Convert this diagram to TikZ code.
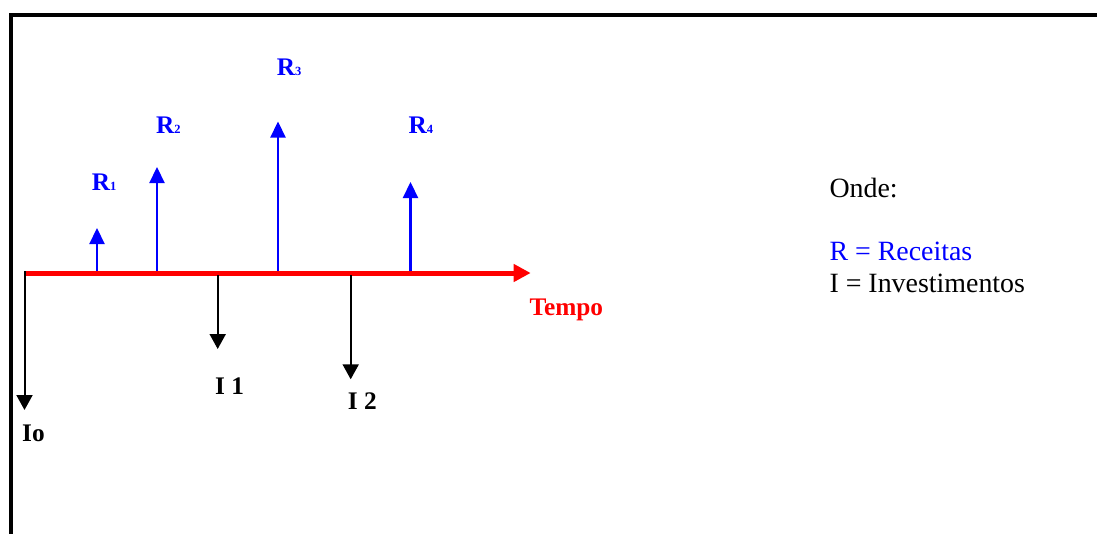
\documentclass[tikz,border=0pt]{standalone}
\usepackage{fontspec}
\setmainfont{Liberation Serif}
\usetikzlibrary{arrows.meta}
\definecolor{rblue}{RGB}{0,0,255}
\definecolor{rred}{RGB}{255,0,0}
\newcommand{\lblfont}{\fontsize{25.3}{30}\selectfont\bfseries}
\newcommand{\subfnt}[1]{{\fontsize{12.5}{13}\selectfont #1}}
\newcommand{\legfont}{\fontsize{27.9}{32}\selectfont}
\tikzset{
  frameline/.style={line width=4pt, black},
  axisarrow/.style={line width=5pt, rred, -{Triangle[length=17pt,width=17pt]}},
  recarrow/.style={line width=2.2pt, rblue, -{Triangle[length=16pt,width=15pt]}},
  invarrow/.style={line width=2pt, black, -{Triangle[length=15pt,width=16pt]}},
  lbl/.style={inner sep=0pt, anchor=base west, font=\lblfont},
  leg/.style={inner sep=0pt, anchor=base west, font=\legfont},
}
\begin{document}
\begin{tikzpicture}[x=1pt,y=-1pt]
\useasboundingbox (0,0) rectangle (1097,533);
\clip (0,0) rectangle (1097,533);
\fill[white] (0,0) rectangle (1097,533);
% frame
\coordinate (fb) at (10.7,545);
\coordinate (ftl) at (10.7,15.3);
\coordinate (fr) at (1110,15.3);
\draw[frameline] (fb) -- (ftl) -- (fr);
% axis
\coordinate (a0) at (24,273);
\coordinate (aend) at (530.7,273);
\draw[axisarrow] (a0) -- (aend);
% investment arrows
\coordinate (io0) at (24.5,271);
\coordinate (io1) at (24.5,410);
\coordinate (i10) at (217.7,275);
\coordinate (i11) at (217.7,349);
\coordinate (i20) at (350.7,275);
\coordinate (i21) at (350.7,379.3);
\draw[invarrow] (io0) -- (io1);
\draw[invarrow] (i10) -- (i11);
\draw[invarrow] (i20) -- (i21);
% receipt arrows
\coordinate (r10) at (97,271);
\coordinate (r11) at (97,228);
\coordinate (r20) at (157,271);
\coordinate (r21) at (157,167);
\coordinate (r30) at (278,271);
\coordinate (r31) at (278,121.5);
\coordinate (r40) at (410.5,271);
\coordinate (r41) at (410.5,182);
\draw[recarrow] (r10) -- (r11);
\draw[recarrow] (r20) -- (r21);
\draw[recarrow] (r30) -- (r31);
\draw[recarrow] (r40) -- (r41);
% labels
\node[lbl, text=rblue] (lr1) at (91.7,190.7) {R\subfnt{1}};
\node[lbl, text=rblue] (lr2) at (156,133.3) {R\subfnt{2}};
\node[lbl, text=rblue] (lr3) at (276.7,75) {R\subfnt{3}};
\node[lbl, text=rblue] (lr4) at (408.3,133.3) {R\subfnt{4}};
\node[lbl, text=rred] (ltempo) at (529.3,315) {Tempo};
\node[lbl] (lio) at (22,441) {Io};
\node[lbl] (li1) at (215,394) {I 1};
\node[lbl] (li2) at (347.7,409) {I 2};
% legend
\node[leg] (onde) at (829.3,197.7) {Onde:};
\node[leg, text=rblue] (legr) at (829.3,260.7) {R = Receitas};
\node[leg] (legi) at (829.3,292.7) {I = Investimentos};
\end{tikzpicture}
\end{document}
